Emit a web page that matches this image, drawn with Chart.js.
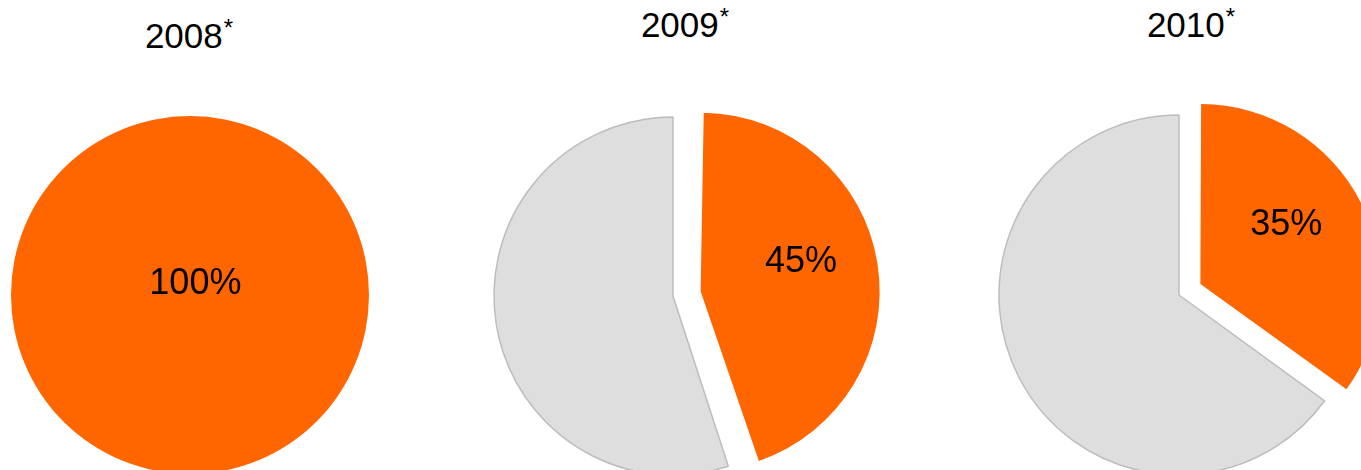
<!DOCTYPE html>
<html>
<head>
<meta charset="utf-8">
<script src="https://cdn.jsdelivr.net/npm/chart.js@4.4.1/dist/chart.umd.min.js"></script>
<style>
  html, body { margin:0; padding:0; width:1361px; height:470px; overflow:hidden; background:#fff; }
  .pie { position:absolute; }
  .ttl { position:absolute; width:300px; text-align:center; font-family:"Liberation Sans", Arial, sans-serif;
         font-size:35px; line-height:35px; color:#000; white-space:nowrap; }
  .ttl span { font-size:24px; position:relative; top:-12px; margin-left:1px; }
</style>
</head>
<body>
<script>
// ---- data ----
const categories = ['2008', '2009', '2010'];
const titleMarks = ['*', '*', '*'];
const orangeShare = [100, 45, 35];
const otherShare = [0, 55, 65];

// ---- layout / style ----
const layout = [
  { cx: 190,  cy: 295, r: 179, explode: 0,  tx: 189,  tb: 48 },
  { cx: 673,  cy: 296, r: 179, explode: 28, tx: 685,  tb: 37 },
  { cx: 1179, cy: 295, r: 180, explode: 24, tx: 1191, tb: 37 }
];
const ORANGE = '#FF6600';
const GREY = '#DEDEDE';
const GREY_BORDER = '#BDBDBD';
const S = 460;
const LABEL_FONT = 36;

// Chart.js translates an offset arc by offset/4 and also enlarges its radius by
// offset/4 * (1 - sin(min(PI, circumference))); undo that enlargement so the
// exploded slice keeps the same radius as the rest of the pie.
const keepRadiusPlugin = {
  id: 'keepRadius',
  afterDatasetUpdate(chart, args) {
    const meta = chart.getDatasetMeta(args.index);
    meta.data.forEach((arc) => {
      const off = (arc.options && arc.options.offset) || 0;
      if (!off) return;
      const fix = 1 - Math.sin(Math.min(Math.PI, arc.circumference || 0));
      arc.outerRadius = arc.outerRadius - (off / 4) * fix;
    });
  }
};

const labelPlugin = {
  id: 'sliceLabel',
  afterDatasetsDraw(chart) {
    const meta = chart.getDatasetMeta(0);
    const arc = meta.data[0];
    const p = arc.getProps(['x', 'y', 'startAngle', 'endAngle', 'circumference'], true);
    const R = chart.options.radius;
    const value = chart.data.datasets[0].data[0];
    const ctx = chart.ctx;
    let lx, ly;
    if (p.endAngle - p.startAngle >= Math.PI * 2 - 1e-6) {
      lx = p.x + 0.03 * R;
      ly = p.y - 0.08 * R;
    } else {
      const mid = (p.startAngle + p.endAngle) / 2;
      const shift = (arc.options.offset || 0) / 4;
      const ox = p.x + Math.cos(mid) * shift;
      const oy = p.y + Math.sin(mid) * shift;
      const a = mid - 9 * Math.PI / 180;
      lx = ox + Math.cos(a) * 0.59 * R;
      ly = oy + Math.sin(a) * 0.59 * R;
    }
    ctx.save();
    ctx.fillStyle = '#000';
    ctx.font = LABEL_FONT + 'px "Liberation Sans", Arial, sans-serif';
    ctx.textAlign = 'center';
    ctx.textBaseline = 'alphabetic';
    ctx.fillText(value + '%', lx, ly + 0.358 * LABEL_FONT);
    ctx.restore();
  }
};

categories.forEach((cat, i) => {
  const L = layout[i];
  const t = document.createElement('div');
  t.className = 'ttl';
  t.style.left = (L.tx - 150) + 'px';
  t.style.top = (L.tb - 29.6) + 'px';
  t.innerHTML = cat + '<span>' + titleMarks[i] + '</span>';
  document.body.appendChild(t);

  const c = document.createElement('canvas');
  c.className = 'pie';
  c.width = S; c.height = S;
  c.style.left = (L.cx - S / 2) + 'px';
  c.style.top = (L.cy - S / 2) + 'px';
  c.style.width = S + 'px'; c.style.height = S + 'px';
  document.body.appendChild(c);

  new Chart(c, {
    type: 'pie',
    data: {
      labels: ['share', 'other'],
      datasets: [{
        data: [orangeShare[i], otherShare[i]],
        backgroundColor: [ORANGE, GREY],
        borderColor: [ORANGE, GREY_BORDER],
        borderWidth: (ctx) => (ctx.dataIndex === 1 && ctx.raw > 0) ? 1.5 : 0,
        offset: [L.explode * 4, 0],
        hoverOffset: 0
      }]
    },
    options: {
      responsive: false,
      animation: false,
      radius: L.r,
      layout: { padding: 0 },
      events: [],
      plugins: {
        legend: { display: false },
        tooltip: { enabled: false },
        title: { display: false }
      }
    },
    plugins: [keepRadiusPlugin, labelPlugin]
  });
});
</script>
</body>
</html>
